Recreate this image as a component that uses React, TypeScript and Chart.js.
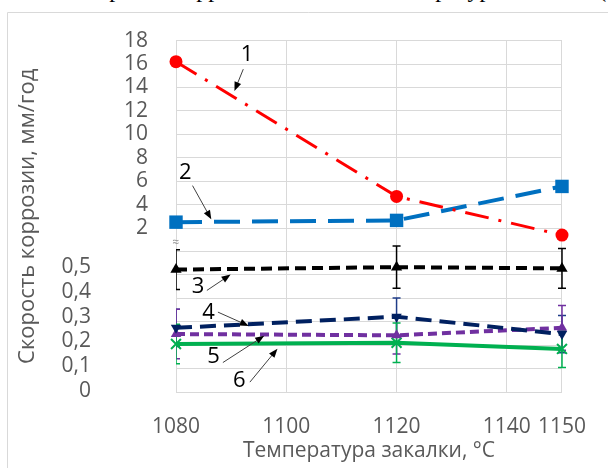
import React, { useEffect, useRef } from "react";
import { Chart, registerables } from "chart.js";

Chart.register(...registerables);

// ---------- data ----------
const temperatures = [1080, 1120, 1150];
const xTickValues = [1080, 1100, 1120, 1140, 1150];
const upperTickLabels = [2, 4, 6, 8, 10, 12, 14, 16, 18];
const lowerTickLabels = [0, 0.1, 0.2, 0.3, 0.4, 0.5];

// upper part of the broken axis (mm/year)
const series1 = [16.2, 4.7, 1.4];
const series2 = [2.5, 2.65, 5.55];
// lower part of the broken axis (mm/year)
const series3 = [0.49, 0.5, 0.495];
const series3Err = [0.08, 0.085, 0.08];
const series4 = [0.255, 0.3, 0.23];
const series4Err = [0.075, 0.075, 0.075];
const series5 = [0.23, 0.225, 0.255];
const series5Err = [0.1, 0.075, 0.09];
const series6 = [0.19, 0.195, 0.17];
const series6Err = [0.08, 0.08, 0.075];

const seriesNames = ["1", "2", "3", "4", "5", "6"];

// ---------- broken axis mapping (internal grid units 0..15) ----------
const AXIS_MAX = 15;
const upperToAxis = (v: number) => 7 + (v - 2) / 2;
const lowerToAxis = (v: number) => 0.04 + v * 10.58;

// callout labels: text position and arrow (from -> to), in data units
const callouts = [
  { text: "1", part: "upper", t: 1092.9, v: 16.8, from: [1092.2, 15.56], to: [1090.6, 13.7] },
  { text: "2", part: "upper", t: 1081.7, v: 6.7, from: [1083.0, 5.62], to: [1086.4, 2.74] },
  { text: "3", part: "lower", t: 1084.0, v: 0.4225, from: [1085.6, 0.406], to: [1089.9, 0.47] },
  { text: "4", part: "lower", t: 1085.9, v: 0.315, from: [1087.6, 0.3185], to: [1093.2, 0.263] },
  { text: "5", part: "lower", t: 1086.8, v: 0.14, from: [1088.5, 0.115], to: [1096.0, 0.223] },
  { text: "6", part: "lower", t: 1091.5, v: 0.04, from: [1093.4, 0.036], to: [1098.4, 0.171] },
];

const FONT = "'Open Sans', 'Liberation Sans', sans-serif";
const GRAY = "#595959";
const GRID = "#d9d9d9";

const toPoints = (vals: number[], map: (v: number) => number) =>
  temperatures.map((t, i) => ({ x: t, y: map(vals[i]) }));

const errorBarPlugin = {
  id: "errorBars",
  beforeDatasetsDraw(chart: any) {
    const { ctx, chartArea, scales } = chart;
    const xs = scales.x;
    const ys = scales.y;
    ctx.save();
    ctx.beginPath();
    ctx.rect(chartArea.left, chartArea.top - 30, chartArea.right - chartArea.left + 30, chartArea.bottom - chartArea.top + 60);
    ctx.clip();
    chart.data.datasets.forEach((ds: any) => {
      if (!ds.errVals) return;
      ctx.strokeStyle = ds.errColor;
      ctx.lineWidth = 1.5;
      temperatures.forEach((t, i) => {
        const x = xs.getPixelForValue(t);
        const yTop = ys.getPixelForValue(lowerToAxis(ds.rawVals[i] + ds.errVals[i]));
        const yBot = ys.getPixelForValue(lowerToAxis(ds.rawVals[i] - ds.errVals[i]));
        ctx.beginPath();
        ctx.moveTo(x, yTop);
        ctx.lineTo(x, yBot);
        ctx.moveTo(x - 4, yTop);
        ctx.lineTo(x + 4, yTop);
        ctx.moveTo(x - 4, yBot);
        ctx.lineTo(x + 4, yBot);
        ctx.stroke();
      });
    });
    ctx.restore();
  },
};

const decorPlugin = {
  id: "decor",
  beforeDraw(chart: any) {
    const { ctx } = chart;
    ctx.save();
    ctx.strokeStyle = GRID;
    ctx.lineWidth = 1;
    ctx.beginPath();
    ctx.moveTo(7.5, 470);
    ctx.lineTo(7.5, 12.5);
    ctx.lineTo(610, 12.5);
    ctx.stroke();
    ctx.restore();
  },
  afterDatasetsDraw(chart: any) {
    const { ctx, scales } = chart;
    const xs = scales.x;
    const ys = scales.y;
    ctx.save();
    // break mark
    ctx.fillStyle = "#8c8c8c";
    ctx.font = `12px ${FONT}`;
    ctx.textAlign = "center";
    ctx.textBaseline = "middle";
    ctx.fillText("≈", xs.getPixelForValue(1080), ys.getPixelForValue(6.36));
    // callouts
    callouts.forEach((c) => {
      const map = c.part === "upper" ? upperToAxis : lowerToAxis;
      const tx = xs.getPixelForValue(c.t);
      const ty = ys.getPixelForValue(map(c.v));
      ctx.fillStyle = "#000";
      ctx.font = `22px ${FONT}`;
      ctx.fillText(c.text, tx, ty);
      const x1 = xs.getPixelForValue(c.from[0]);
      const y1 = ys.getPixelForValue(map(c.from[1]));
      const x2 = xs.getPixelForValue(c.to[0]);
      const y2 = ys.getPixelForValue(map(c.to[1]));
      const ang = Math.atan2(y2 - y1, x2 - x1);
      const head = 9;
      ctx.strokeStyle = "#404040";
      ctx.lineWidth = 1;
      ctx.beginPath();
      ctx.moveTo(x1, y1);
      ctx.lineTo(x2 - Math.cos(ang) * head * 0.8, y2 - Math.sin(ang) * head * 0.8);
      ctx.stroke();
      ctx.fillStyle = "#000";
      ctx.beginPath();
      ctx.moveTo(x2, y2);
      ctx.lineTo(x2 - head * Math.cos(ang) + 3.5 * Math.sin(ang), y2 - head * Math.sin(ang) - 3.5 * Math.cos(ang));
      ctx.lineTo(x2 - head * Math.cos(ang) - 3.5 * Math.sin(ang), y2 - head * Math.sin(ang) + 3.5 * Math.cos(ang));
      ctx.closePath();
      ctx.fill();
    });
    ctx.restore();
  },
};

export default function App() {
  const ref = useRef<HTMLCanvasElement | null>(null);

  useEffect(() => {
    document.body.style.margin = "0";
    if (!ref.current) return;
    const lineDs = (
      label: string,
      pts: any[],
      color: string,
      width: number,
      dash: number[],
      style: string,
      radius: number,
      extra: any = {}
    ) => ({
      label,
      data: pts,
      borderColor: color,
      backgroundColor: color,
      borderWidth: width,
      borderDash: dash,
      pointStyle: style,
      pointRadius: radius,
      pointBackgroundColor: color,
      pointBorderColor: color,
      pointBorderWidth: style === "crossRot" ? 2 : 0,
      tension: 0,
      clip: false,
      ...extra,
    });

    const chart = new Chart(ref.current, {
      type: "line",
      data: {
        datasets: [
          lineDs(seriesNames[0], toPoints(series1, upperToAxis), "#ff0000", 3, [24, 10, 3, 10], "circle", 6.5),
          lineDs(seriesNames[1], toPoints(series2, upperToAxis), "#0070c0", 4, [26, 12], "rect", 9.5),
          lineDs(seriesNames[2], toPoints(series3, lowerToAxis), "#000000", 4, [11, 6], "triangle", 6.5, {
            rawVals: series3, errVals: series3Err, errColor: "#000000",
          }),
          lineDs(seriesNames[3], toPoints(series4, lowerToAxis), "#002060", 4, [16, 8], "triangle", 6, {
            rawVals: series4, errVals: series4Err, errColor: "#1f3c88", pointRotation: 180,
          }),
          lineDs(seriesNames[4], toPoints(series5, lowerToAxis), "#7030a0", 4, [9, 5], "triangle", 6, {
            rawVals: series5, errVals: series5Err, errColor: "#7030a0",
          }),
          lineDs(seriesNames[5], toPoints(series6, lowerToAxis), "#00b050", 4, [], "crossRot", 7, {
            rawVals: series6, errVals: series6Err, errColor: "#00b050",
          }),
        ],
      },
      options: {
        responsive: false,
        animation: false,
        devicePixelRatio: 1,
        layout: { padding: { top: 36, right: 29, left: 0, bottom: 0 } },
        plugins: {
          legend: { display: false },
          tooltip: { enabled: false },
        },
        scales: {
          x: {
            type: "linear",
            min: 1080,
            max: 1150,
            afterBuildTicks: (s: any) => {
              s.ticks = xTickValues.map((v) => ({ value: v }));
            },
            afterFit: (s: any) => {
              s.height = 76;
            },
            grid: { color: GRID, drawTicks: false },
            border: { color: GRID },
            ticks: {
              color: GRAY,
              font: { family: FONT, size: 21 },
              padding: 22,
              maxRotation: 0,
              autoSkip: false,
              callback: (v: any) => String(v),
            },
            title: {
              display: true,
              text: "Температура закалки, °C",
              color: GRAY,
              font: { family: FONT, size: 21 },
              padding: { top: 0, bottom: 4 },
            },
          },
          y: {
            type: "linear",
            position: "left",
            weight: 0,
            min: 0,
            max: AXIS_MAX,
            afterFit: (s: any) => {
              s.width = 66;
            },
            grid: { color: GRID, drawTicks: false },
            border: { color: GRID },
            ticks: {
              stepSize: 1,
              autoSkip: false,
              color: GRAY,
              font: { family: FONT, size: 21 },
              padding: 28,
              callback: (v: any) => (v >= 7 ? String(upperTickLabels[v - 7]) : ""),
            },
          },
          yl: {
            type: "linear",
            position: "left",
            weight: 1,
            min: 0,
            max: AXIS_MAX,
            afterBuildTicks: (s: any) => {
              s.ticks = lowerTickLabels.map((v) => ({ value: lowerToAxis(v) }));
            },
            afterFit: (s: any) => {
              s.width = 110;
            },
            grid: { display: false, drawTicks: false },
            border: { display: false },
            ticks: {
              autoSkip: false,
              color: GRAY,
              font: { family: FONT, size: 21 },
              padding: 19,
              callback: (_v: any, i: number) => String(lowerTickLabels[i]).replace(".", ","),
            },
            title: {
              display: true,
              text: "Скорость коррозии, мм/год",
              color: GRAY,
              font: { family: FONT, size: 22 },
              padding: { top: 15, bottom: 0 },
            },
          },
        },
      } as any,
      plugins: [errorBarPlugin, decorPlugin],
    });
    return () => chart.destroy();
  }, []);

  return (
    <div style={{ position: "relative", width: 608, height: 468, overflow: "hidden", background: "#fff" }}>
      <div
        style={{
          position: "absolute",
          left: -60,
          top: -23,
          whiteSpace: "nowrap",
          fontFamily: "'Liberation Serif', 'Times New Roman', serif",
          fontSize: 24,
          lineHeight: "24px",
          color: "#000",
        }}
      >
        Зависимость скорости коррозии сталей от температуры закалки (а)
      </div>
      <canvas ref={ref} width={608} height={468} style={{ position: "absolute", left: 0, top: 0 }} />
    </div>
  );
}
